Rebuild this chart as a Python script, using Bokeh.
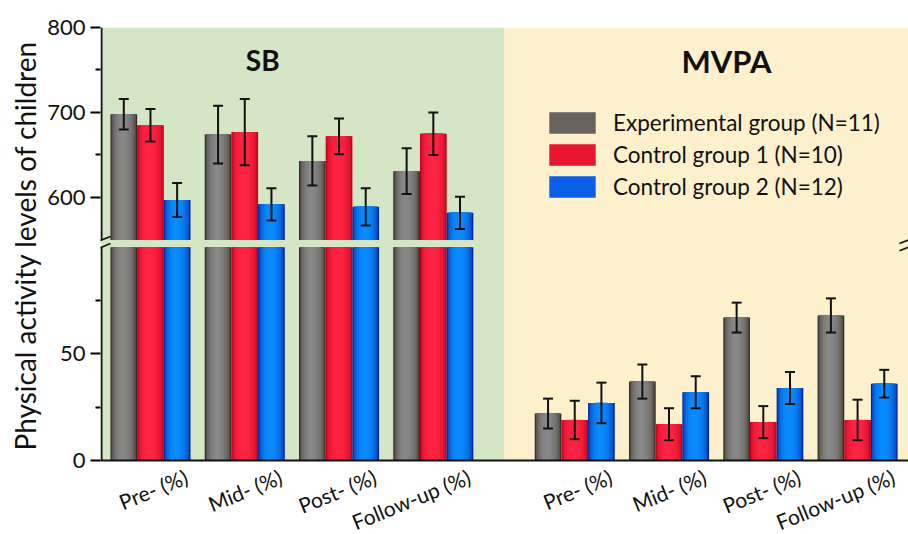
import math
from bokeh.plotting import figure
from bokeh.models import (ColumnDataSource, Range1d, FixedTicker, Whisker, TeeHead, Title,
                          Label, LabelSet, BoxAnnotation, Arrow, Legend, LegendItem)
from bokeh.core.properties import value
from bokeh.embed import file_html
from bokeh.resources import INLINE

# ---------------- data ----------------
phases = ["Pre- (%)", "Mid- (%)", "Post- (%)", "Follow-up (%)"]
panels = ["SB", "MVPA"]
groups = ["Experimental group (N=11)", "Control group 1 (N=10)", "Control group 2 (N=12)"]
y_title = "Physical activity levels of children"

sb_exp = [698, 674, 643, 631]
sb_exp_err = [18, 34, 29, 27]
sb_c1 = [685, 677, 672, 675]
sb_c1_err = [19, 39, 21, 25]
sb_c2 = [597, 592, 589, 582]
sb_c2_err = [20, 19, 22, 19]

mvpa_exp = [22, 37, 67, 68]
mvpa_exp_err = [7, 8, 7, 8]
mvpa_c1 = [19, 17, 18, 19]
mvpa_c1_err = [9, 7.5, 7.5, 9.5]
mvpa_c2 = [27, 32, 34, 36]
mvpa_c2_err = [9.5, 7.5, 7.5, 6.5]

low_ticks = [0, 50]
low_minor = [25, 75]
high_ticks = [600, 700, 800]
high_minor = [650, 750]

# axis break: lower segment 0..LOW_MAX, upper segment HIGH_MIN..800
LOW_MAX = 100
HIGH_MIN = 550

# ---------------- style / layout ----------------
FONT = "Lato"
INK = "#111111"
BAR_W = 0.283
GROUP_OFFSETS = [-BAR_W, 0.0, BAR_W]
PANEL_START = [0.0, 4.5]
PANEL_SPLIT = 3.75
edge_cols = ["#342a22", "#bb0018", "#00209c"]
center_cols = ["#888888", "#ff2444", "#0a8cff"]
legend_cols = ["#656260", "#e8162f", "#0a5ee8"]

sb_vals = [sb_exp, sb_c1, sb_c2]
sb_errs = [sb_exp_err, sb_c1_err, sb_c2_err]
mv_vals = [mvpa_exp, mvpa_c1, mvpa_c2]
mv_errs = [mvpa_exp_err, mvpa_c1_err, mvpa_c2_err]

W, H = 908, 534
BL, BR, BT, BB = 100, 0, 27, 0
X0, X1 = -0.53, 8.04
PXU = (W - BL - BR) / (X1 - X0)   # pixels per x unit
# the frame reaches the bottom of the canvas so the category labels sit inside it
main_rng = Range1d(-34.7, 203.0)
top_rng = Range1d(203.5, 800)

p = figure(width=W, height=H, x_range=Range1d(X0, X1), y_range=main_rng,
           output_backend="svg", toolbar_location=None,
           min_border_left=BL, min_border_right=BR, min_border_top=BT, min_border_bottom=BB)
p.extra_y_ranges = {"top": top_rng}
p.xgrid.visible = False
p.ygrid.visible = False
p.outline_line_color = None
p.xaxis.visible = False

# backgrounds (above the x axis only)
p.add_layout(BoxAnnotation(right=PANEL_SPLIT, bottom=0, fill_color="#d5e6c6", fill_alpha=1,
                           line_color=None, level="underlay"))
p.add_layout(BoxAnnotation(left=PANEL_SPLIT, bottom=0, fill_color="#fdf0cd", fill_alpha=1,
                           line_color=None, level="underlay"))


def mix(c1, c2, s):
    a = [int(c1[i:i + 2], 16) for i in (1, 3, 5)]
    b = [int(c2[i:i + 2], 16) for i in (1, 3, 5)]
    return "#%02x%02x%02x" % tuple(round(a[k] + (b[k] - a[k]) * s) for k in range(3))


# bar rows
low_x, low_top, low_g = [], [], []
hi_x, hi_top, hi_g = [], [], []
for g in range(3):
    for i in range(4):
        low_x.append(PANEL_START[0] + i + GROUP_OFFSETS[g]); low_top.append(LOW_MAX); low_g.append(g)
        hi_x.append(PANEL_START[0] + i + GROUP_OFFSETS[g]); hi_top.append(sb_vals[g][i]); hi_g.append(g)
        low_x.append(PANEL_START[1] + i + GROUP_OFFSETS[g]); low_top.append(mv_vals[g][i]); low_g.append(g)

# cylindrical shading drawn as nested bars
NL = 12
PEAK = 0.45
for j in range(NL):
    frac = j / NL
    s = math.sqrt(1 - (1 - frac) ** 2)
    w = BAR_W * (1 - frac)
    shift = (PEAK - 0.5) * BAR_W * frac
    cols_low = [mix(edge_cols[g], center_cols[g], s) for g in low_g]
    cols_hi = [mix(edge_cols[g], center_cols[g], s) for g in hi_g]
    p.vbar(x=[x + shift for x in low_x], top=low_top, bottom=0, width=w,
           fill_color=cols_low, line_color=None)
    p.vbar(x=[x + shift for x in hi_x], top=hi_top, bottom=HIGH_MIN, width=w,
           fill_color=cols_hi, line_color=None, y_range_name="top")

# error bars
sb_b, sb_u, sb_l, mv_b, mv_u, mv_l = [], [], [], [], [], []
for g in range(3):
    for i in range(4):
        sb_b.append(PANEL_START[0] + i + GROUP_OFFSETS[g])
        sb_u.append(sb_vals[g][i] + sb_errs[g][i]); sb_l.append(sb_vals[g][i] - sb_errs[g][i])
        mv_b.append(PANEL_START[1] + i + GROUP_OFFSETS[g])
        mv_u.append(mv_vals[g][i] + mv_errs[g][i]); mv_l.append(mv_vals[g][i] - mv_errs[g][i])


def tee():
    return TeeHead(size=10, line_width=2, line_color=INK)


p.add_layout(Whisker(source=ColumnDataSource(dict(b=sb_b, u=sb_u, l=sb_l)), base="b", upper="u",
                     lower="l", dimension="height", y_range_name="top", line_width=2,
                     line_color=INK, upper_head=tee(), lower_head=tee(), level="annotation"))
p.add_layout(Whisker(source=ColumnDataSource(dict(b=mv_b, u=mv_u, l=mv_l)), base="b", upper="u",
                     lower="l", dimension="height", line_width=2,
                     line_color=INK, upper_head=tee(), lower_head=tee(), level="annotation"))


# y axis: one axis carrying the ticks of both segments
def to_main(v):
    return round(main_rng.start + (v - top_rng.start) * (main_rng.end - main_rng.start)
                 / (top_rng.end - top_rng.start), 4)


major = [float(t) for t in low_ticks] + [to_main(v) for v in high_ticks]
minor = [float(t) for t in low_minor] + [to_main(v) for v in high_minor]
overrides = {float(t): str(t) for t in low_ticks}
overrides.update({to_main(v): str(v) for v in high_ticks})
yax = p.yaxis[0]
yax.ticker = FixedTicker(ticks=major, minor_ticks=minor)
yax.major_label_overrides = overrides
yax.axis_line_color = None
yax.major_tick_in = 0
yax.major_tick_out = 10
yax.minor_tick_in = 0
yax.minor_tick_out = 5
yax.major_tick_line_width = 2
yax.minor_tick_line_width = 2
yax.major_label_standoff = 5
yax.major_label_text_font = FONT
yax.major_label_text_font_size = "22px"
yax.major_label_text_color = INK

# y axis title, starting near the x axis and reading upwards
p.add_layout(Title(text=y_title, align="left", offset=84, text_font=FONT, text_font_size="28px",
                   text_font_style="normal", text_color=INK, standoff=6), "left")

# broken y axis line (kept just inside the frame) and x axis line
XA = X0 + 1.0 / PXU
p.add_layout(Arrow(start=None, end=None, x_start=XA, x_end=XA, y_start=0, y_end=LOW_MAX,
                   line_width=2, line_color=INK))
p.add_layout(Arrow(start=None, end=None, x_start=XA, x_end=XA, y_start=HIGH_MIN,
                   y_end=top_rng.end, line_width=2, line_color=INK, y_range_name="top"))
p.add_layout(Arrow(start=None, end=None, x_start=X0, x_end=X1, y_start=0, y_end=0,
                   line_width=2, line_color=INK))
# break marks
DX = 9.0 / PXU
for xc in (XA, X1):
    p.add_layout(Arrow(start=None, end=None, x_start=xc - DX, x_end=xc + DX, y_start=HIGH_MIN - 4.2,
                       y_end=HIGH_MIN + 4.2, line_width=1.6, line_color=INK, y_range_name="top"))
    p.add_layout(Arrow(start=None, end=None, x_start=xc - DX, x_end=xc + DX, y_start=LOW_MAX - 1.7,
                       y_end=LOW_MAX + 1.7, line_width=1.6, line_color=INK))

# category labels under the x axis
lab_x, lab_t = [], []
for k in range(2):
    for i in range(4):
        lab_x.append(PANEL_START[k] + i)
        lab_t.append(phases[i])
p.add_layout(LabelSet(source=ColumnDataSource(dict(x=lab_x, y=[0] * len(lab_x), t=lab_t)),
                      x="x", y="y", text="t", x_offset=36, y_offset=-15, angle=0.385,
                      text_align="right", text_baseline="middle", text_font=value(FONT),
                      text_font_size="21px", text_color=INK))

# panel titles
for name, xc, yc, fs in zip(panels, [1.19, 6.11], [762, 760], ["28px", "31px"]):
    p.add_layout(Label(x=xc, y=yc, y_range_name="top", text=name, text_font=FONT,
                       text_font_size=fs, text_font_style="bold", text_align="center",
                       text_baseline="middle", text_color=INK))

# legend (renderers with representative colours)
items = []
for g in range(3):
    r = p.vbar(x=[0], top=[0], width=0.0, fill_color=legend_cols[g], line_color=None)
    items.append(LegendItem(label=groups[g], renderers=[r]))
legend = Legend(items=items, location=(443, 334), glyph_width=58, glyph_height=27,
                label_standoff=12, spacing=5, padding=0, margin=0, border_line_color=None,
                background_fill_alpha=0, label_text_font=FONT, label_text_font_size="22.5px",
                label_height=27, label_text_color=INK)
p.add_layout(legend)

open("out.html", "w").write(file_html(p, INLINE))
